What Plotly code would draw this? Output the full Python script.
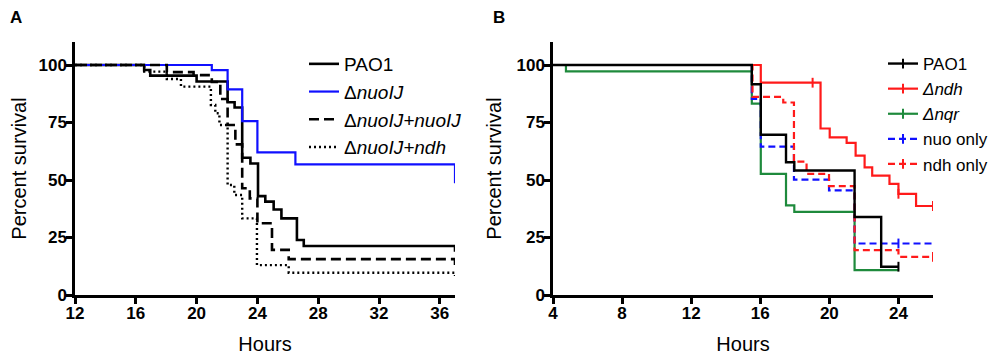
import plotly.graph_objects as go

# ---------------- Panel A data ----------------
a_pao1_t = [12, 16.55, 16.95, 20.0, 22.04, 22.5, 23.0, 23.54, 24.04, 24.52, 25.07, 25.58, 26.6, 27.05, 37, 37]
a_pao1_s = [100, 97.8, 95.4, 92.8, 83.8, 81.5, 59.7, 57.2, 43.0, 40.6, 37.2, 33.3, 23.9, 21.3, 21.3, 18.8]

a_nuo_t = [12, 21.0, 22.04, 23.0, 24.0, 26.5, 37, 37]
a_nuo_s = [100, 97.8, 89.4, 75.6, 62.0, 56.8, 56.8, 48.6]

a_comp_t = [12, 18.04, 19.8, 21.0, 21.56, 22.04, 22.55, 23.0, 23.5, 24.0, 24.96, 26.06, 37, 37]
a_comp_s = [100, 96.9, 95.6, 92.6, 85.2, 73.9, 65.5, 46.4, 42.0, 31.2, 19.6, 15.6, 15.6, 13.0]

a_ndh_t = [12, 16.55, 18.04, 18.97, 20.94, 21.23, 21.5, 22.04, 22.48, 23.0, 23.97, 26.06, 37, 37]
a_ndh_s = [100, 97.1, 93.9, 90.6, 82.6, 79.0, 73.9, 47.8, 43.5, 33.3, 13.0, 9.7, 9.7, 8.3]

a_names = ["PAO1", "Δ<i>nuoIJ</i>", "Δ<i>nuoIJ+nuoIJ</i>", "Δ<i>nuoIJ+ndh</i>"]

# ---------------- Panel B data ----------------
b_pao1_t = [4, 15.51, 16.03, 17.49, 17.97, 21.46, 23.0, 24.0]
b_pao1_s = [100, 91.6, 69.7, 57.7, 54.1, 33.9, 12.3, 12.3]
b_pao1_ct = [24.0]
b_pao1_cs = [12.3]

b_ndh_t = [4, 16.03, 19.49, 20.02, 21.0, 21.52, 22.04, 22.48, 23.48, 24.0, 25.02, 26]
b_ndh_s = [100, 92.3, 72.4, 68.5, 66.1, 60.6, 55.5, 51.9, 48.3, 44.0, 38.7, 38.7]
b_ndh_ct = [19.03, 24.0, 26]
b_ndh_cs = [92.3, 44.0, 38.7]

b_nqr_t = [4, 4.75, 15.51, 16.03, 17.49, 17.97, 21.46, 24.0]
b_nqr_s = [100, 97.2, 83.2, 52.7, 39.0, 36.1, 10.8, 10.8]
b_nqr_ct = []
b_nqr_cs = []

b_nuoonly_t = [4, 15.51, 16.03, 17.95, 19.98, 21.46, 26]
b_nuoonly_s = [100, 85.3, 64.5, 50.2, 45.5, 22.4, 22.4]
b_nuoonly_ct = [24.0]
b_nuoonly_cs = [22.4]

b_ndhonly_t = [4, 15.55, 17.33, 17.95, 18.68, 19.98, 21.46, 24.0, 26]
b_ndhonly_s = [100, 86.1, 83.7, 58.0, 52.7, 47.3, 19.5, 16.6, 16.6]
b_ndhonly_ct = [26]
b_ndhonly_cs = [16.6]

b_names = ["PAO1", "<i>Δndh</i>", "<i>Δnqr</i>", "nuo only", "ndh only"]

y_ticks = [0, 25, 50, 75, 100]
a_xticks = [12, 16, 20, 24, 28, 32, 36]
b_xticks = [4, 8, 12, 16, 20, 24]

BLUE = "#1010ff"
RED = "#ff1a1a"
GREEN = "#1e8a3c"
BLACK = "#000000"
FONT = "Liberation Sans, Arial, sans-serif"

# page body has an 8px margin: figure is 992x347, placed at (8, 8)
W, H = 992, 347
OFF = 8


def px_x(x):
    return (x - OFF) / W


def px_y(y):
    return (H - (y - OFF)) / H


fig = go.Figure()

a_series = [
    (a_pao1_t, a_pao1_s, BLACK, "solid", 2.6),
    (a_nuo_t, a_nuo_s, BLUE, "solid", 2.2),
    (a_comp_t, a_comp_s, BLACK, "10px,5px", 2.6),
    (a_ndh_t, a_ndh_s, BLACK, "2px,3px", 2.4),
]
for i, (t, s, c, d, w) in enumerate(a_series):
    fig.add_trace(go.Scatter(
        x=t, y=s, mode="lines", line=dict(color=c, dash=d, width=w, shape="hv"),
        name=a_names[i], legend="legend", legendgroup="a%d" % i,
        xaxis="x", yaxis="y"))

b_series = [
    (b_pao1_t, b_pao1_s, b_pao1_ct, b_pao1_cs, BLACK, "solid", 2.4),
    (b_ndh_t, b_ndh_s, b_ndh_ct, b_ndh_cs, RED, "solid", 2.2),
    (b_nqr_t, b_nqr_s, b_nqr_ct, b_nqr_cs, GREEN, "solid", 2.2),
    (b_nuoonly_t, b_nuoonly_s, b_nuoonly_ct, b_nuoonly_cs, BLUE, "7px,4px", 2.2),
    (b_ndhonly_t, b_ndhonly_s, b_ndhonly_ct, b_ndhonly_cs, RED, "7px,4px", 2.2),
]
order = [2, 3, 4, 1, 0]  # draw black last on top
for i in order:
    t, s, ct, cs, c, d, w = b_series[i]
    fig.add_trace(go.Scatter(
        x=t, y=s, mode="lines", line=dict(color=c, dash=d, width=w, shape="hv"),
        showlegend=False, xaxis="x2", yaxis="y2", hoverinfo="skip"))
    if ct:
        fig.add_trace(go.Scatter(
            x=ct, y=cs, mode="markers",
            marker=dict(symbol="line-ns", size=7, color=c, line=dict(color=c, width=2)),
            showlegend=False, xaxis="x2", yaxis="y2", hoverinfo="skip"))
for i in range(5):
    t, s, ct, cs, c, d, w = b_series[i]
    fig.add_trace(go.Scatter(
        x=[None], y=[None], mode="lines+markers",
        line=dict(color=c, dash=d, width=w),
        marker=dict(symbol="line-ns", size=7, color=c, line=dict(color=c, width=2)),
        name=b_names[i], legend="legend2", legendgroup="b%d" % i,
        xaxis="x2", yaxis="y2"))

axis_common = dict(
    showline=True, linecolor="black", linewidth=2.5, mirror=False,
    ticks="outside", ticklen=6, tickwidth=2.5, tickcolor="black",
    showgrid=False, zeroline=False, automargin=False,
    tickfont=dict(family=FONT, size=17, color="black", weight="bold"),
)
xax = dict(axis_common, ticklabelstandoff=-5)
yax = dict(axis_common, ticklabelstandoff=-4)
ydom = [px_y(295), px_y(42)]

fig.update_layout(
    width=W, height=H,
    margin=dict(l=0, r=0, t=0, b=0),
    paper_bgcolor="white", plot_bgcolor="white",
    font=dict(family=FONT, color="black"),
    xaxis=dict(xax, domain=[px_x(75), px_x(455)], range=[12, 37], tickvals=a_xticks,
               anchor="y", title=dict(text="Hours", font=dict(size=20), standoff=15)),
    yaxis=dict(yax, domain=ydom, range=[0, 110], tickvals=y_ticks, anchor="x",
               title=dict(text="Percent survival", font=dict(size=20), standoff=10)),
    xaxis2=dict(xax, domain=[px_x(553), px_x(933)], range=[4, 26], tickvals=b_xticks,
                anchor="y2", title=dict(text="Hours", font=dict(size=20), standoff=15)),
    yaxis2=dict(yax, domain=ydom, range=[0, 110], tickvals=y_ticks, anchor="x2",
                title=dict(text="Percent survival", font=dict(size=20), standoff=10)),
    legend=dict(x=px_x(304), y=px_y(45), xanchor="left", yanchor="top",
                font=dict(family=FONT, size=19), bgcolor="rgba(0,0,0,0)",
                tracegroupgap=0, itemwidth=30),
    legend2=dict(x=px_x(883), y=px_y(46), xanchor="left", yanchor="top",
                 font=dict(family=FONT, size=17), bgcolor="rgba(0,0,0,0)",
                 tracegroupgap=0, itemwidth=30),
    annotations=[
        dict(text="<b>A</b>", x=0, y=1, xref="paper", yref="paper", yshift=2,
             xanchor="left", yanchor="top", showarrow=False, font=dict(size=17)),
        dict(text="<b>B</b>", x=px_x(491), y=1, xref="paper", yref="paper", yshift=2,
             xanchor="left", yanchor="top", showarrow=False, font=dict(size=17)),
    ],
)

fig.write_html("out.html")
